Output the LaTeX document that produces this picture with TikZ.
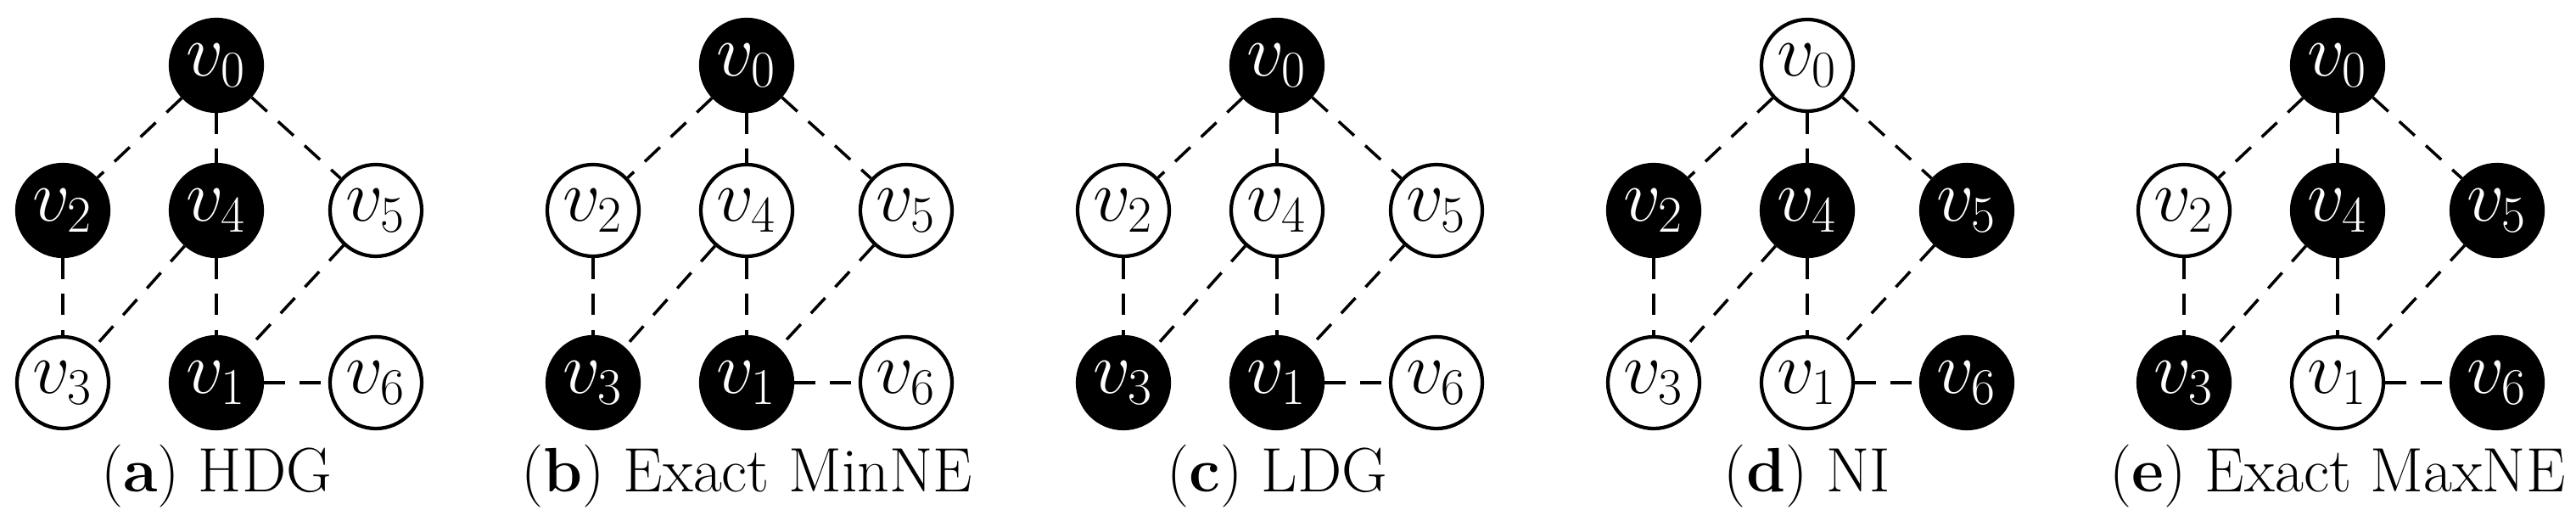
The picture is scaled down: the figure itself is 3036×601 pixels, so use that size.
\documentclass[tikz,border=0pt]{standalone}
\begin{document}
\begin{tikzpicture}[x=0.01cm,y=-0.01cm,
  vtx/.style={circle,draw=black,line width=1.2pt,minimum size=1.08cm,inner sep=0pt,fill=white,text=black,font=\fontsize{24}{28}\selectfont},
  blk/.style={vtx,fill=black,text=white},
  edge/.style={line width=1pt,dash pattern=on 7pt off 5pt},
  captxt/.style={font=\fontsize{21}{25}\selectfont,anchor=base}]
\useasboundingbox (0,0) rectangle (3036,601);
\foreach \i/\lab/\bl in {0/{(\textbf{a}) HDG}/{0,2,4,1},1/{(\textbf{b}) Exact MinNE}/{0,3,1},2/{(\textbf{c}) LDG}/{0,3,1},3/{(\textbf{d}) NI}/{2,4,5,6},4/{(\textbf{e}) Exact MaxNE}/{0,4,5,3,6}}{
  \begin{scope}[xshift=\i*625*0.01cm]
  \foreach \n/\x/\y in {0/255/77,2/74/248,4/255/248,5/443/248,3/74/451,1/255/451,6/443/451}{
    \gdef\st{vtx}
    \foreach \b in \bl {\ifnum\b=\n\relax\gdef\st{blk}\fi}
    \node[\st] (p\i v\n) at (\x,\y) {$v_{\n}$};
  }
  \foreach \a/\b in {0/2,0/4,0/5,2/3,4/3,4/1,5/1,1/6}
    \draw[edge] (p\i v\a) -- (p\i v\b);
  \node[captxt] (c\i) at (255,580) {\lab};
  \end{scope}
}
\end{tikzpicture}
\end{document}
